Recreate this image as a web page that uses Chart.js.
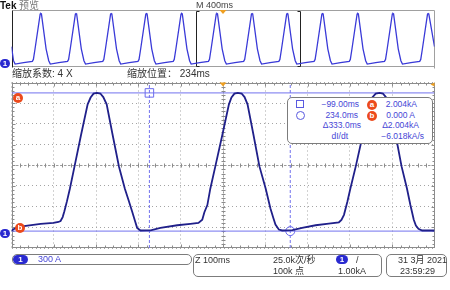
<!DOCTYPE html>
<html>
<head>
<meta charset="utf-8">
<script src="https://cdn.jsdelivr.net/npm/chart.js@4/dist/chart.umd.min.js"></script>
<style>
body { margin: 0; background: #fff; }
#scope { position: relative; width: 450px; height: 290px; overflow: hidden;
    font-family: "Liberation Sans", "Noto Sans CJK SC", sans-serif; }
canvas { position: absolute; left: 0; }
.lbl { position: absolute; white-space: nowrap; font-size: 10px; line-height: 10px; color: #333; }
.ro { position: absolute; white-space: nowrap; font-size: 8.5px; line-height: 9px; color: #4646d6; }
.box { position: absolute; box-sizing: border-box; border: 1px solid #7c7c7c; border-radius: 5px; background: #fff; }
.pill { position: absolute; background: #2a2ad0; color: #fff; border-radius: 5px; font-size: 8px;
    line-height: 9px; height: 9px; font-weight: bold; text-align: center; }
.mk { position: absolute; width: 10px; height: 10px; border-radius: 50%; background: #ec4a1c; color: #fff;
    font-size: 8px; line-height: 10px; font-weight: bold; text-align: center; }
</style>
</head>
<body>
<div id="scope">
    <canvas id="overview" width="450" height="70" style="top:0"></canvas>
    <canvas id="main" width="450" height="185" style="top:70px"></canvas>

    <div class="lbl" style="left:0;top:1px;font-weight:bold;color:#111">Tek</div>
    <div class="lbl" style="left:19px;top:1px;color:#777">预览</div>
    <div class="lbl" style="left:196px;top:0;font-size:9px;color:#444">M 400ms</div>
    <div class="pill" style="left:0;top:59px;width:10px">1</div>

    <div class="lbl" style="left:12px;top:69px">缩放系数: 4 X</div>
    <div class="lbl" style="left:127px;top:69px">缩放位置： 234ms</div>

    <div class="mk" style="left:13px;top:93px">a</div>
    <div class="mk" style="left:15px;top:223px">b</div>
    <div class="pill" style="left:0;top:229px;width:10px">1</div>

    <div class="box" style="left:287px;top:97px;width:146px;height:47px"></div>
    <div style="position:absolute;left:296px;top:100px;width:8px;height:8px;box-sizing:border-box;border:1px solid #5a5ae0"></div>
    <div style="position:absolute;left:296px;top:111px;width:9px;height:9px;box-sizing:border-box;border:1px solid #5a5ae0;border-radius:50%"></div>
    <div class="ro" style="right:91px;top:99.5px">−99.00ms</div>
    <div class="ro" style="right:92px;top:110.5px">234.0ms</div>
    <div class="ro" style="right:89px;top:121px">Δ333.0ms</div>
    <div class="ro" style="right:102px;top:132px">dI/dt</div>
    <div class="mk" style="left:367px;top:99.5px">a</div>
    <div class="mk" style="left:367px;top:110.5px">b</div>
    <div class="ro" style="right:33px;top:99.5px">2.004kA</div>
    <div class="ro" style="right:35px;top:110.5px">0.000 A</div>
    <div class="ro" style="right:31px;top:121px">Δ2.004kA</div>
    <div class="ro" style="right:26px;top:132px">−6.018kA/s</div>

    <div class="box" style="left:12px;top:254px;width:180px;height:11px"></div>
    <div class="pill" style="left:13px;top:255px;width:15px">1</div>
    <div class="ro" style="left:38px;top:255px;font-size:9px;color:#4646d6">300 A</div>

    <div class="box" style="left:193px;top:254px;width:189px;height:23px"></div>
    <div class="lbl" style="left:195px;top:255px;font-size:9px">Z 100ms</div>
    <div class="lbl" style="left:273px;top:255px;font-size:9px">25.0k次/秒</div>
    <div class="lbl" style="left:273px;top:266px;font-size:9px">100k 点</div>
    <div class="pill" style="left:336px;top:255px;width:12px">1</div>
    <div class="lbl" style="left:356px;top:255px;font-size:9px">/</div>
    <div class="lbl" style="left:338px;top:266px;font-size:9px">1.00kA</div>

    <div class="box" style="left:386px;top:254px;width:61px;height:23px"></div>
    <div class="lbl" style="left:398px;top:255px;font-size:9px">31 3月 2021</div>
    <div class="lbl" style="left:400px;top:266px;font-size:9px">23:59:29</div>
</div>
<script>
"use strict";

// zoomed window (100 ms/div): time in ms, current in A
var mainTimes = [
    -425, -420, -411, -387, -356, -326, -314, -309, -304, -300, -294, -287, -276, -261, -245,
    -238, -231, -223, -215, -208, -200, -186, -171, -157, -148, -140, -133, -128, -120,
    -96, -73, -33, -2, 17, 26, 31, 38, 45, 57, 73, 89, 95, 102, 110, 119, 126, 133, 147,
    161, 176, 187, 194, 199, 207, 215, 239, 262, 294, 325, 349, 355, 361, 369, 376, 389,
    405, 423, 428, 436, 445, 453, 460, 467, 483, 497, 510, 518, 526, 531, 537, 546, 575,
];
var mainAmps = [
    4, 26, 57, 80, 104, 118, 132, 146, 203, 289, 431, 615, 938, 1383, 1838,
    1937, 1994, 2004, 1995, 1944, 1838, 1397, 938, 615, 445, 289, 146, 47, 9,
    11, 47, 85, 104, 118, 165, 274, 378, 615, 942, 1383, 1838, 1937, 1994, 2004, 1995, 1944, 1838, 1397,
    942, 615, 331, 189, 94, 23, 9, 14, 47, 85, 108, 128, 161, 236, 426, 615, 942,
    1383, 1838, 1937, 1994, 2004, 1995, 1944, 1838, 1397, 942, 615, 378, 165, 82, 33, 9, 9,
];

// overview record (400 ms/div)
var overviewTimes = [
    -2165, -2146, -2131, -2051,
    -1968, -1958, -1943, -1894, -1888, -1882, -1838, -1813, -1798, -1718,
    -1635, -1625, -1610, -1561, -1555, -1549, -1505, -1480, -1465, -1385,
    -1302, -1292, -1277, -1228, -1222, -1216, -1172, -1147, -1132, -1052,
    -969, -959, -944, -895, -889, -883, -839, -814, -799, -719,
    -636, -626, -611, -562, -556, -550, -506, -481, -466, -386,
    -303, -293, -278, -229, -223, -217, -173, -148, -133, -53,
    30, 40, 55, 104, 110, 116, 160, 185, 200, 280,
    363, 373, 388, 437, 443, 449, 493, 518, 533, 613,
    696, 706, 721, 770, 776, 782, 826, 851, 866, 946,
    1029, 1039, 1054, 1103, 1109, 1115, 1159, 1184, 1199, 1279,
    1362, 1372, 1387, 1436, 1442, 1448, 1492, 1517, 1532, 1612,
    1695, 1705, 1720, 1769, 1775, 1781, 1835,
];
var overviewAmps = [
    700, 150, 15, 70,
    125, 200, 600, 1980, 2004, 1985, 615, 150, 15, 70,
    125, 200, 600, 1980, 2004, 1985, 615, 150, 15, 70,
    125, 200, 600, 1980, 2004, 1985, 615, 150, 15, 70,
    125, 200, 600, 1980, 2004, 1985, 615, 150, 15, 70,
    125, 200, 600, 1980, 2004, 1985, 615, 150, 15, 70,
    125, 200, 600, 1980, 2004, 1985, 615, 150, 15, 70,
    125, 200, 600, 1980, 2004, 1985, 615, 150, 15, 70,
    125, 200, 600, 1980, 2004, 1985, 615, 150, 15, 70,
    125, 200, 600, 1980, 2004, 1985, 615, 150, 15, 70,
    125, 200, 600, 1980, 2004, 1985, 615, 150, 15, 70,
    125, 200, 600, 1980, 2004, 1985, 615, 150, 15, 70,
    125, 200, 600, 1980, 2004, 1985, 700,
];

var mainTimeTicks = [-425, -325, -225, -125, -25, 75, 175, 275, 375, 475, 575];
var mainAmpTicks = [-245, 55, 355, 655, 955, 1255, 1555, 1855, 2155];
var overviewTimeRange = [-2165, 1835];
var overviewAmpRange = [-98, 2141];
var cursorTimes = [-99, 234];
var cursorAmps = [2004, 0];

function pairs(xs, ys) {
    return xs.map(function (x, i) {
        return { x: x, y: ys[i] };
    });
}

function triangleDown(ctx, x, y, w, h) {
    ctx.beginPath();
    ctx.moveTo(x - w / 2, y);
    ctx.lineTo(x + w / 2, y);
    ctx.lineTo(x, y + h);
    ctx.closePath();
    ctx.fill();
}

var overviewFrame = {
    id: "overviewFrame",
    beforeDatasetsDraw: function (chart) {
        var ctx = chart.ctx, a = chart.chartArea, xs = chart.scales.x;
        var l = Math.round(a.left) + 0.5, r = Math.round(a.right) - 0.5;
        var t = Math.round(a.top) + 0.5, b = Math.round(a.bottom) - 0.5;
        ctx.save();
        ctx.lineWidth = 1;
        ctx.strokeStyle = "#a0a0a0";
        ctx.beginPath();
        ctx.moveTo(l, t);
        ctx.lineTo(r, t);
        ctx.lineTo(r, b + 2);
        ctx.moveTo(l, b);
        ctx.lineTo(r, b);
        ctx.stroke();
        ctx.strokeStyle = "#222";
        ctx.beginPath();
        ctx.moveTo(l, t);
        ctx.lineTo(l, b + 1);
        // bracket around the zoomed window
        var x0 = Math.round(xs.getPixelForValue(mainTimeTicks[0])) + 0.5;
        var x1 = Math.round(xs.getPixelForValue(mainTimeTicks[mainTimeTicks.length - 1])) - 0.5;
        ctx.moveTo(x0 + 3, t + 1);
        ctx.lineTo(x0, t + 1);
        ctx.lineTo(x0, b);
        ctx.lineTo(x0 + 3, b);
        ctx.moveTo(x1 - 3, t + 1);
        ctx.lineTo(x1, t + 1);
        ctx.lineTo(x1, b);
        ctx.lineTo(x1 - 3, b);
        ctx.stroke();
        ctx.restore();
    },
    afterDatasetsDraw: function (chart) {
        var ctx = chart.ctx, xs = chart.scales.x;
        ctx.save();
        ctx.fillStyle = "#f0a020";
        triangleDown(ctx, xs.getPixelForValue((xs.min + xs.max) / 2), chart.chartArea.top, 7, 4);
        ctx.restore();
    },
};

var graticule = {
    id: "graticule",
    beforeDatasetsDraw: function (chart) {
        var ctx = chart.ctx, a = chart.chartArea, xs = chart.scales.x, ys = chart.scales.y;
        var l = Math.round(a.left) + 0.5, r = Math.round(a.right) - 0.5;
        var t = Math.round(a.top) + 0.5, b = Math.round(a.bottom) - 0.5;
        var cx = Math.round(xs.getPixelForValue((xs.min + xs.max) / 2)) + 0.5;
        var cy = Math.round(ys.getPixelForValue((ys.min + ys.max) / 2)) + 0.5;
        var i, p, len, step;
        ctx.save();
        ctx.lineWidth = 1;
        ctx.strokeStyle = "#9a9a9a";
        ctx.setLineDash([2, 2]);
        ctx.beginPath();
        ctx.moveTo(cx, t);
        ctx.lineTo(cx, b);
        ctx.moveTo(l, cy);
        ctx.lineTo(r, cy);
        ctx.stroke();
        ctx.setLineDash([]);
        ctx.strokeStyle = "#8c8c8c";
        ctx.strokeRect(l, t, r - l, b - t);
        ctx.beginPath();
        step = (xs.max - xs.min) / 50;
        for (i = 1; i < 50; i++) {
            p = Math.round(xs.getPixelForValue(xs.min + i * step)) + 0.5;
            len = i % 5 === 0 ? 3 : 2;
            ctx.moveTo(p, t);
            ctx.lineTo(p, t + len);
            ctx.moveTo(p, b);
            ctx.lineTo(p, b - len);
            ctx.moveTo(p, cy - 2);
            ctx.lineTo(p, cy + 2);
        }
        step = (ys.max - ys.min) / 40;
        for (i = 1; i < 40; i++) {
            p = Math.round(ys.getPixelForValue(ys.min + i * step)) + 0.5;
            len = i % 5 === 0 ? 3 : 2;
            ctx.moveTo(l, p);
            ctx.lineTo(l + len, p);
            ctx.moveTo(r, p);
            ctx.lineTo(r - len, p);
            ctx.moveTo(cx - 2, p);
            ctx.lineTo(cx + 2, p);
        }
        ctx.stroke();
        ctx.restore();
    },
    afterDatasetsDraw: function (chart) {
        var ctx = chart.ctx, a = chart.chartArea, xs = chart.scales.x;
        ctx.save();
        ctx.fillStyle = "#f0a020";
        triangleDown(ctx, xs.getPixelForValue((xs.min + xs.max) / 2), a.top, 7, 4);
        ctx.beginPath();
        ctx.moveTo(a.right, a.top);
        ctx.lineTo(a.right - 4, a.top + 2);
        ctx.lineTo(a.right, a.top + 4);
        ctx.closePath();
        ctx.fill();
        ctx.restore();
    },
};

new Chart(document.getElementById("overview").getContext("2d"), {
    type: "line",
    data: {
        datasets: [
            {
                data: pairs(overviewTimes, overviewAmps),
                borderColor: "#3a3ad8",
                borderWidth: 1.3,
                pointRadius: 0,
                tension: 0,
            },
        ],
    },
    options: {
        responsive: false,
        animation: false,
        devicePixelRatio: 1,
        layout: { padding: { left: 11.5, right: 15.5, top: 10, bottom: 3 } },
        plugins: { legend: { display: false }, tooltip: { enabled: false } },
        scales: {
            x: { type: "linear", display: false, min: overviewTimeRange[0], max: overviewTimeRange[1] },
            y: { type: "linear", display: false, min: overviewAmpRange[0], max: overviewAmpRange[1] },
        },
    },
    plugins: [overviewFrame],
});

var tMin = mainTimeTicks[0], tMax = mainTimeTicks[mainTimeTicks.length - 1];
var aMin = mainAmpTicks[0], aMax = mainAmpTicks[mainAmpTicks.length - 1];
var cursorStyle = { borderColor: "#7272ee", borderWidth: 1, pointRadius: 0, order: 1 };

new Chart(document.getElementById("main").getContext("2d"), {
    type: "line",
    data: {
        datasets: [
            {
                data: pairs(mainTimes, mainAmps),
                borderColor: "#20208a",
                borderWidth: 1.8,
                pointRadius: 0,
                tension: 0,
                order: 0,
            },
            Object.assign({ data: pairs([tMin, tMax], [cursorAmps[0], cursorAmps[0]]) }, cursorStyle),
            Object.assign({ data: pairs([tMin, tMax], [cursorAmps[1], cursorAmps[1]]) }, cursorStyle),
            Object.assign({ data: pairs([cursorTimes[0], cursorTimes[0]], [aMin, aMax]), borderDash: [3, 2] }, cursorStyle),
            Object.assign({ data: pairs([cursorTimes[1], cursorTimes[1]], [aMin, aMax]), borderDash: [3, 2] }, cursorStyle),
            {
                data: pairs([cursorTimes[0]], [cursorAmps[0]]),
                showLine: false,
                pointStyle: "rect",
                pointRadius: 6,
                pointBorderWidth: 1,
                pointBorderColor: "#6a6aee",
                pointBackgroundColor: "rgba(255,255,255,0)",
                order: 1,
            },
            {
                data: pairs([cursorTimes[1]], [cursorAmps[1]]),
                showLine: false,
                pointStyle: "circle",
                pointRadius: 4.5,
                pointBorderWidth: 1,
                pointBorderColor: "#6a6aee",
                pointBackgroundColor: "rgba(255,255,255,0)",
                order: 1,
            },
        ],
    },
    options: {
        responsive: false,
        animation: false,
        devicePixelRatio: 1,
        layout: { padding: { left: 11.5, right: 15.5, top: 12.5, bottom: 4.5 } },
        plugins: { legend: { display: false }, tooltip: { enabled: false } },
        scales: {
            x: {
                type: "linear",
                min: tMin,
                max: tMax,
                afterBuildTicks: function (axis) {
                    axis.ticks = mainTimeTicks.map(function (v) { return { value: v }; });
                },
                ticks: { display: false },
                grid: { color: "#a4a4a4", drawTicks: false },
                border: { display: false, dash: [1, 3] },
            },
            y: {
                type: "linear",
                min: aMin,
                max: aMax,
                afterBuildTicks: function (axis) {
                    axis.ticks = mainAmpTicks.map(function (v) { return { value: v }; });
                },
                ticks: { display: false },
                grid: { color: "#a4a4a4", drawTicks: false },
                border: { display: false, dash: [1, 3] },
            },
        },
    },
    plugins: [graticule],
});
</script>
</body>
</html>
